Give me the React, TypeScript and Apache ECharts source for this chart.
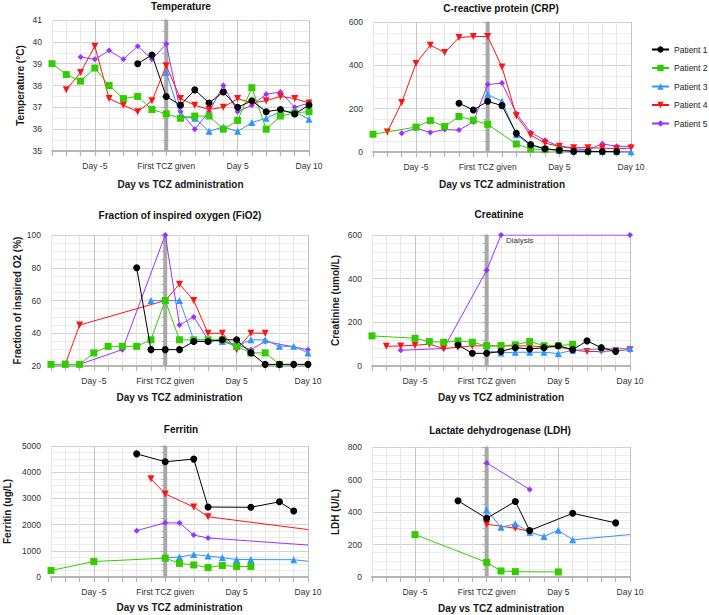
import React, { useEffect, useRef } from 'react';
import * as echarts from 'echarts';

// ---------- Data (day vs first TCZ dose, value) ----------
const patientNames = ['Patient 1', 'Patient 2', 'Patient 3', 'Patient 4', 'Patient 5'];

const xTickValues = [-5, 0, 5, 10];
const xTickTexts = ['Day -5', 'First TCZ given', 'Day 5', 'Day 10'];

// Temperature (°C)
const tempP1 = [[-2, 39.0], [-1, 39.4], [0, 37.5], [1, 37.1], [2, 37.8], [3, 37.2], [4, 37.7], [5, 37.0], [6, 37.3], [7, 36.8], [8, 36.9], [9, 36.7], [10, 37.1]];
const tempP2 = [[-8, 39.0], [-7, 38.5], [-6, 38.2], [-5, 38.8], [-4, 38.0], [-3, 37.4], [-2, 37.5], [-1, 36.9], [0, 36.7], [1, 36.5], [2, 36.6], [3, 36.6], [4, 36.0], [5, 36.4], [6, 37.9], [7, 36.0], [8, 36.6], [9, 36.75], [10, 36.8]];
const tempP3 = [[0, 38.6], [1, 36.6], [2, 36.5], [3, 35.9], [4, 36.1], [5, 35.9], [6, 36.3], [7, 36.5], [8, 36.8], [9, 36.8], [10, 36.45]];
const tempP4 = [[-7, 37.8], [-6, 38.6], [-5, 39.8], [-4, 37.4], [-3, 37.1], [-2, 36.8], [-1, 37.3], [0, 38.9], [1, 37.4], [2, 37.1], [3, 36.9], [4, 37.0], [5, 37.4], [6, 37.2], [7, 37.3], [8, 37.5], [9, 37.4], [10, 37.2]];
const tempP5 = [[-6, 39.3], [-5, 39.2], [-4, 39.6], [-3, 39.2], [-2, 39.8], [-1, 39.2], [0, 39.9], [1, 36.8], [2, 36.0], [3, 36.8], [4, 38.0], [5, 36.8], [6, 37.1], [7, 37.6], [8, 37.7], [9, 37.0], [10, 37.2]];

// C-reactive protein
const crpP1 = [[-2, 225], [-1, 194], [0, 234], [1, 214], [2, 86], [3, 34], [4, 15], [5, 8], [6, 3], [7, 3], [8, 2], [9, 2]];
const crpP2 = [[-8, 82], [-5, 115], [-4, 145], [-3, 118], [-2, 164], [-1, 147], [0, 128], [2, 37], [3, 14], [4, 11], [5, 9]];
const crpP3 = [[0, 266], [1, 234], [2, 80], [3, 30], [4, 15], [5, 8], [6, 5], [7, 3], [8, 2], [9, 1], [10, 1]];
const crpP4 = [[-7, 92], [-6, 228], [-5, 409], [-4, 493], [-3, 459], [-2, 528], [-1, 533], [0, 533], [1, 392], [2, 167], [3, 78], [4, 41], [5, 26], [6, 20], [7, 20], [8, 18], [9, 15], [10, 18]];
const crpP5 = [[-6, 87], [-5, 110], [-4, 90], [-3, 104], [-2, 101], [-1, 139], [0, 311], [1, 318], [2, 178], [3, 90], [4, 54], [5, 26], [6, 15], [7, 9], [8, 38], [9, 26], [10, 26]];

// Fraction of inspired oxygen (%)
const fio2P1 = [[-2, 80], [-1, 30], [0, 30], [1, 30], [2, 35], [3, 35], [4, 36], [5, 36], [6, 28], [7, 21], [8, 21], [9, 21], [10, 21]];
const fio2P2 = [[-8, 21], [-7, 21], [-6, 21], [-5, 28], [-4, 32], [-3, 32], [-2, 32], [-1, 36], [0, 60], [1, 36], [2, 36], [3, 36], [4, 36], [5, 32], [6, 28], [7, 28], [8, 21]];
const fio2P3 = [[-1, 60], [0, 60], [1, 60], [2, 36], [3, 36], [4, 35], [5, 32], [6, 36], [7, 36], [8, 32], [9, 32], [10, 28]];
const fio2P4 = [[-7, 21], [-6, 45], [0, 60], [1, 70], [2, 60], [3, 40], [4, 40], [5, 30], [6, 40], [7, 40]];
const fio2P5 = [[-6, 21], [-3, 30], [0, 100], [1, 45], [2, 50], [3, 36], [4, 35], [5, 33], [6, 30], [7, 35], [10, 30]];

// Creatinine (umol/L)
const creatP1 = [[-2, 96], [-1, 58], [0, 58], [1, 67], [2, 84], [3, 78], [4, 84], [5, 93], [6, 75], [7, 115], [8, 84], [9, 67]];
const creatP2 = [[-8, 138], [-5, 127], [-4, 112], [-3, 109], [-2, 115], [-1, 109], [0, 92], [1, 93], [2, 97], [3, 112], [4, 93], [5, 93], [6, 99]];
const creatP3 = [[0, 70], [1, 60], [2, 63], [3, 63], [4, 63], [5, 57], [6, 72], [8, 78], [10, 80]];
const creatP4 = [[-7, 90], [-6, 92], [-5, 95], [-4, 100], [-3, 80], [-2, 86], [-1, 92], [0, 92], [1, 92], [2, 92], [3, 92], [4, 88], [5, 88], [6, 73], [7, 66], [8, 67], [9, 70], [10, 75]];
const creatP5 = [[-6, 72], [-3, 80], [0, 438], [1, 600], [10, 600]];
const creatNoteDay = 1;
const creatNoteText = 'Dialysis';

// Ferritin (ug/L)
const ferP1 = [[-2, 4700], [0, 4400], [2, 4500], [3, 2670], [6, 2660], [8, 2870], [9, 2520]];
const ferP2 = [[-8, 250], [-5, 590], [0, 720], [1, 520], [2, 460], [3, 360], [4, 440], [5, 400], [6, 400]];
const ferP3 = [[0, 730], [1, 765], [2, 855], [3, 800], [4, 740], [5, 665], [6, 665], [9, 660]];
const ferP4 = [[-1, 3750], [0, 3170], [2, 2670], [3, 2300]];
const ferP5 = [[-2, 1770], [0, 2070], [1, 2060], [2, 1600], [3, 1490]];
// values where the trend line leaves the plot at day 10 (no marker)
const ferTrendEnd = [null, null, [10, 600], [10, 1810], [10, 1220]];

// Lactate dehydrogenase (U/L)
const ldhP1 = [[-2, 469], [0, 361], [2, 465], [3, 286], [6, 392], [9, 333]];
const ldhP2 = [[-5, 261], [0, 90], [1, 37], [2, 33], [5, 31]];
const ldhP3 = [[0, 412], [1, 306], [2, 327], [3, 276], [4, 249], [5, 288], [6, 229]];
const ldhP4 = [[0, 325], [2, 300], [3, 280]];
const ldhP5 = [[0, 702], [3, 539]];
const ldhTrendEnd = [null, null, [10, 261], null, null];

// ---------- Styling ----------
const FONT = '"Liberation Sans", Arial, Helvetica, sans-serif';
const colors = ['#000000', '#33cc00', '#2f95ff', '#ff1414', '#9933ff'];
const symbols = ['circle', 'rect', 'triangle', 'triangle', 'diamond'];
const rotates = [0, 0, 0, 180, 0];
const sizes = [7, 7, 7, 7, 6];

const panels = [
  { title: 'Temperature', yName: 'Temperature (°C)', min: 35, max: 41, interval: 1, minor: 2,
    data: [tempP1, tempP2, tempP3, tempP4, tempP5], ends: null,
    grid: { left: 52, top: 20, width: 257, height: 131 }, tx: 181, ty: 6.5, xGap: 28, yGap: 26.5 },
  { title: 'C-reactive protein (CRP)', yName: '', min: 0, max: 600, interval: 200, minor: 4,
    data: [crpP1, crpP2, crpP3, crpP4, crpP5], ends: null,
    grid: { left: 373, top: 22, width: 258, height: 130 }, tx: 501, ty: 8.5, xGap: 27, yGap: 30 },
  { title: 'Fraction of inspired oxygen (FiO2)', yName: 'Fraction of inspired O2 (%)', min: 20, max: 100, interval: 20, minor: 4,
    data: [fio2P1, fio2P2, fio2P3, fio2P4, fio2P5], ends: null,
    grid: { left: 51, top: 235, width: 257, height: 131 }, tx: 180, ty: 215, xGap: 26, yGap: 29 },
  { title: 'Creatinine', yName: 'Creatinine (umol/L)', min: 0, max: 600, interval: 200, minor: 5,
    data: [creatP1, creatP2, creatP3, creatP4, creatP5], ends: null,
    grid: { left: 372, top: 235, width: 258, height: 131 }, tx: 499, ty: 214, xGap: 26, yGap: 31.5 },
  { title: 'Ferritin', yName: 'Ferritin (ug/L)', min: 0, max: 5000, interval: 1000, minor: 4,
    data: [ferP1, ferP2, ferP3, ferP4, ferP5], ends: ferTrendEnd,
    grid: { left: 51, top: 446, width: 257, height: 131 }, tx: 181, ty: 429.5, xGap: 25, yGap: 39 },
  { title: 'Lactate dehydrogenase (LDH)', yName: 'LDH (U/L)', min: 0, max: 800, interval: 200, minor: 4,
    data: [ldhP1, ldhP2, ldhP3, ldhP4, ldhP5], ends: ldhTrendEnd,
    grid: { left: 372, top: 447, width: 258, height: 130 }, tx: 500, ty: 430, xGap: 26, yGap: 31.5 },
];

function buildOption() {
  const grid: any[] = [];
  const xAxis: any[] = [];
  const yAxis: any[] = [];
  const series: any[] = [];
  const graphic: any[] = [];
  const minorV = '#e6e6e6';
  const majorV = '#c4c4c4';

  panels.forEach((p, gi) => {
    grid.push({ ...p.grid, containLabel: false });
    xAxis.push({
      type: 'value', gridIndex: gi, min: -8, max: 10, interval: 1,
      axisLine: { show: true, onZero: false, lineStyle: { color: '#b5b5b5', width: 2 } },
      axisTick: { show: true, length: 5, lineStyle: { color: '#b5b5b5', width: 1.2 } },
      axisLabel: {
        fontSize: 8.5, color: '#333', margin: 10, fontFamily: FONT,
        formatter: (v: number) => {
          const k = xTickValues.indexOf(v);
          return k >= 0 ? xTickTexts[k] : '';
        },
      },
      splitLine: { show: true, lineStyle: { color: [minorV, minorV, minorV, majorV, minorV], width: 1 } },
      name: 'Day vs TCZ administration', nameLocation: 'middle', nameGap: p.xGap,
      nameTextStyle: { fontSize: 10, fontWeight: 'bold', color: '#1a1a1a', fontFamily: FONT },
    });
    yAxis.push({
      type: 'value', gridIndex: gi, min: p.min, max: p.max, interval: p.interval,
      axisLine: { show: true, lineStyle: { color: '#b5b5b5', width: 2 } },
      axisTick: { show: true, length: 5, lineStyle: { color: '#b5b5b5', width: 1.2 } },
      minorTick: { show: true, splitNumber: p.minor, length: 4, lineStyle: { color: '#b5b5b5', width: 1 } },
      splitLine: { show: true, lineStyle: { color: '#d2d2d2', width: 1 } },
      minorSplitLine: { show: true, lineStyle: { color: '#ececec', width: 1 } },
      axisLabel: { fontSize: 8.5, color: '#333', margin: 10, fontFamily: FONT, formatter: (v: number) => String(v) },
      name: p.yName, nameLocation: 'middle', nameGap: p.yGap,
      nameTextStyle: { fontSize: 10, fontWeight: 'bold', color: '#1a1a1a', fontFamily: FONT },
    });
    // thick reference line at first TCZ dose
    series.push({
      type: 'line', xAxisIndex: gi, yAxisIndex: gi, data: [[0, p.min], [0, p.max]],
      symbol: 'none', silent: true, z: 1, lineStyle: { color: '#a8a8a8', width: 4 },
      tooltip: { show: false },
    });
    for (let k = 4; k >= 0; k--) {
      const pts: any[] = p.data[k].map((d) => ({ value: d }));
      if (gi === 3 && k === 4) {
        const idx = p.data[k].findIndex((d) => d[0] === creatNoteDay);
        pts[idx] = {
          value: p.data[k][idx],
          label: { show: true, formatter: creatNoteText, position: [8, 4], fontSize: 8, color: '#333', fontFamily: FONT },
        };
      }
      if (p.ends && p.ends[k]) pts.push({ value: p.ends[k], symbol: 'none' });
      series.push({
        name: patientNames[k], type: 'line', xAxisIndex: gi, yAxisIndex: gi, data: pts,
        symbol: symbols[k], symbolRotate: rotates[k], symbolSize: sizes[k], showAllSymbol: true,
        itemStyle: { color: colors[k] }, lineStyle: { color: colors[k], width: 1 }, z: 2 + (4 - k) * 0.01,
      });
    }
    graphic.push({
      type: 'text', x: p.tx, y: p.ty, silent: true,
      style: { text: p.title, fill: '#111', font: `bold 10px ${FONT}`, align: 'center', verticalAlign: 'middle' },
    });
  });

  return {
    animation: false,
    textStyle: { fontFamily: FONT },
    grid, xAxis, yAxis, series, graphic,
    legend: {
      data: patientNames, orient: 'vertical', left: 651, top: 45, padding: 0,
      itemWidth: 17, itemHeight: 8, itemGap: 9.5,
      textStyle: { fontSize: 8.5, color: '#222', fontFamily: FONT, overflow: 'none' },
    },
  };
}

export default function App() {
  const ref = useRef<HTMLDivElement>(null);
  useEffect(() => {
    document.body.style.margin = '0';
    const chart = echarts.init(ref.current!, null, { renderer: 'svg' });
    chart.setOption(buildOption() as any);
    return () => chart.dispose();
  }, []);
  return <div ref={ref} style={{ width: 709, height: 615, background: '#fff' }} />;
}
